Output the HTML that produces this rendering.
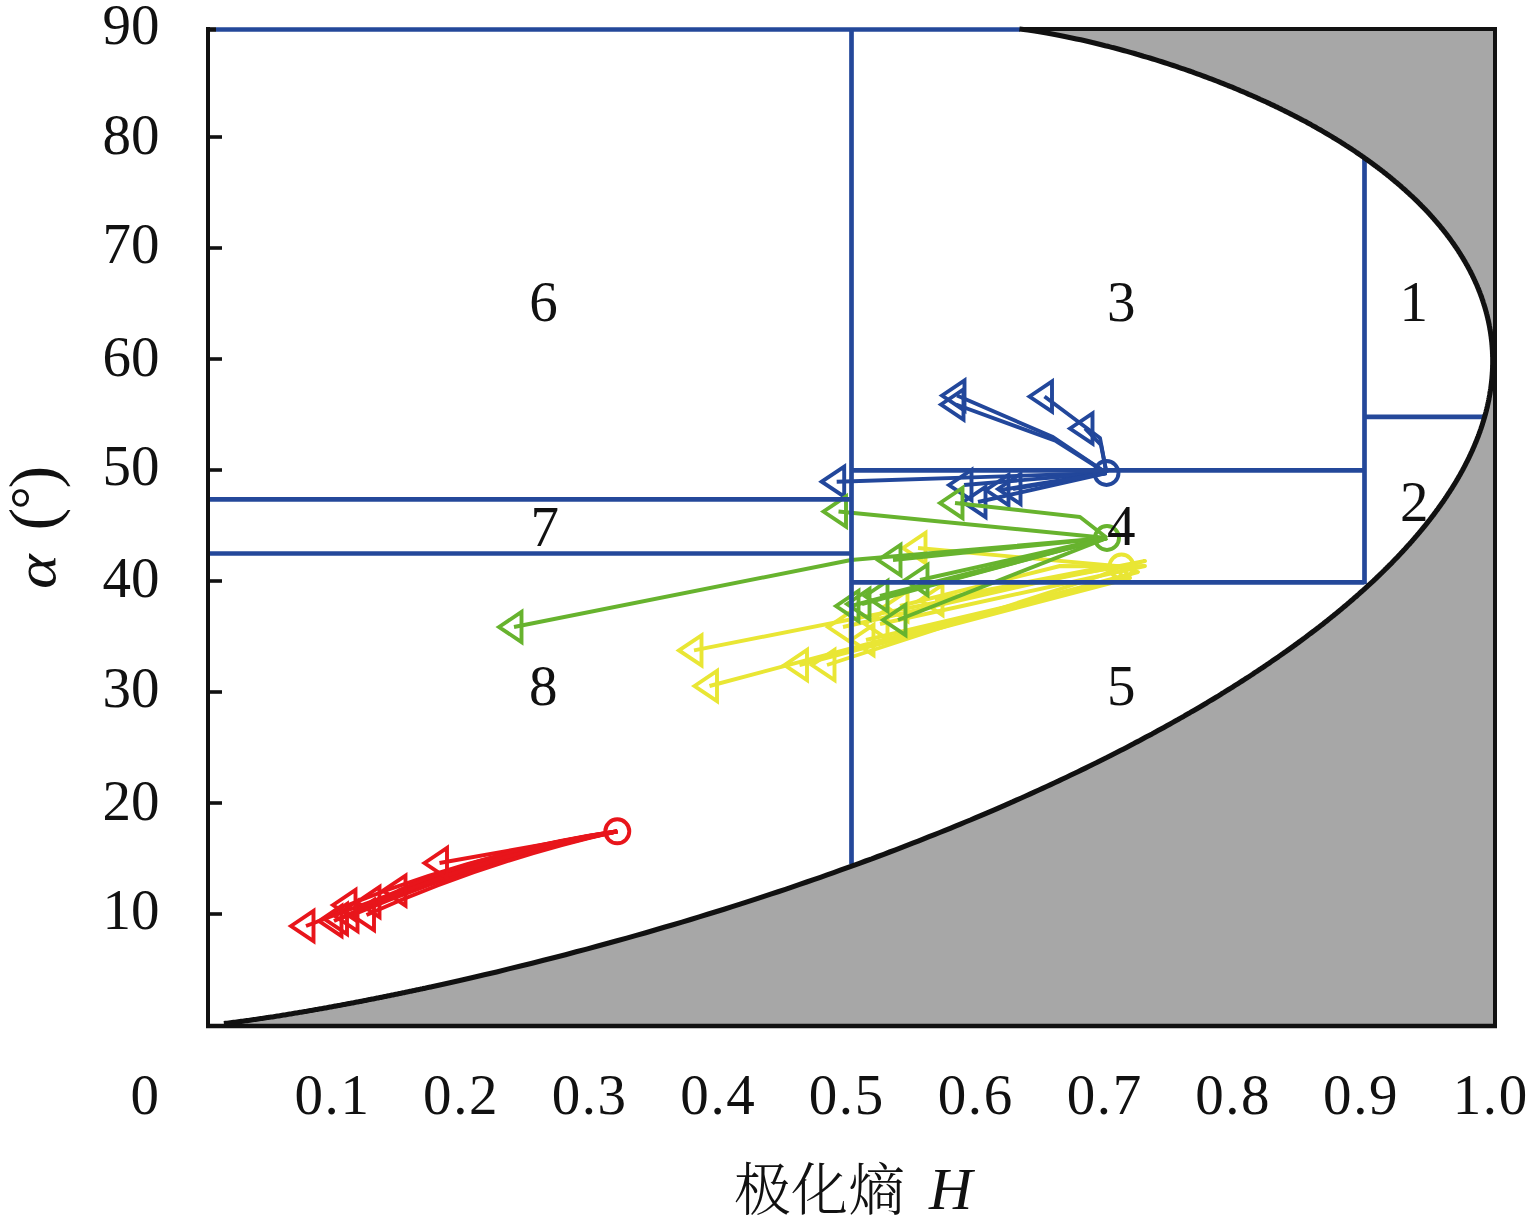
<!DOCTYPE html><html><head><meta charset="utf-8"><title>H-alpha</title><style>html,body{margin:0;padding:0;background:#fff;overflow:hidden}svg{display:block}</style></head><body>
<svg width="1535" height="1219" viewBox="0 0 1535 1219">
<rect width="1535" height="1219" fill="#fff"/>
<polygon points="223.9,1025.0 223.9,1023.6 225.6,1023.4 227.3,1023.2 228.9,1023.0 230.5,1022.8 232.1,1022.6 233.6,1022.4 235.2,1022.2 236.7,1022.0 238.2,1021.8 239.7,1021.6 241.2,1021.4 242.7,1021.2 244.1,1021.0 245.5,1020.8 247.0,1020.6 248.4,1020.4 249.8,1020.2 251.2,1020.0 252.6,1019.8 253.9,1019.6 255.3,1019.4 256.7,1019.2 258.0,1019.0 259.4,1018.8 260.7,1018.6 262.0,1018.4 263.3,1018.2 264.7,1018.0 266.0,1017.8 267.3,1017.6 268.5,1017.4 269.8,1017.3 271.1,1017.1 272.4,1016.9 273.6,1016.7 274.9,1016.5 276.1,1016.3 277.4,1016.1 278.6,1015.9 279.9,1015.7 281.1,1015.5 282.3,1015.3 283.5,1015.1 284.8,1014.9 286.0,1014.7 287.2,1014.5 288.4,1014.3 289.6,1014.1 290.8,1013.9 291.9,1013.7 293.1,1013.5 294.3,1013.3 295.5,1013.1 296.6,1012.9 297.8,1012.7 299.0,1012.5 300.1,1012.3 301.3,1012.2 302.4,1012.0 303.6,1011.8 304.7,1011.6 305.9,1011.4 307.0,1011.2 308.1,1011.0 309.2,1010.8 310.4,1010.6 311.5,1010.4 312.6,1010.2 313.7,1010.0 314.8,1009.8 315.9,1009.6 317.0,1009.4 318.1,1009.2 319.2,1009.0 320.3,1008.8 321.4,1008.7 322.5,1008.5 323.6,1008.3 324.6,1008.1 325.7,1007.9 326.8,1007.7 327.9,1007.5 328.9,1007.3 330.0,1007.1 331.0,1006.9 332.1,1006.7 333.2,1006.5 334.2,1006.3 335.3,1006.1 336.3,1006.0 337.3,1005.8 338.4,1005.6 339.4,1005.4 340.5,1005.2 341.5,1005.0 342.5,1004.8 343.6,1004.6 344.6,1004.4 345.6,1004.2 346.6,1004.0 347.6,1003.8 348.7,1003.6 349.7,1003.5 350.7,1003.3 351.7,1003.1 352.7,1002.9 353.7,1002.7 354.7,1002.5 355.7,1002.3 356.7,1002.1 357.7,1001.9 358.7,1001.7 359.7,1001.5 360.7,1001.4 361.6,1001.2 362.6,1001.0 363.6,1000.8 364.6,1000.6 365.6,1000.4 366.5,1000.2 367.5,1000.0 368.5,999.8 369.4,999.6 370.4,999.4 371.4,999.3 372.3,999.1 373.3,998.9 374.2,998.7 375.2,998.5 376.2,998.3 377.1,998.1 378.1,997.9 379.0,997.7 379.9,997.5 380.9,997.4 381.8,997.2 382.8,997.0 383.7,996.8 384.6,996.6 385.6,996.4 386.5,996.2 387.4,996.0 388.4,995.8 389.3,995.7 390.2,995.5 391.1,995.3 392.1,995.1 393.0,994.9 393.9,994.7 394.8,994.5 395.7,994.3 396.6,994.2 397.6,994.0 398.5,993.8 399.4,993.6 400.3,993.4 401.2,993.2 402.1,993.0 403.0,992.8 403.9,992.7 404.8,992.5 405.7,992.3 406.6,992.1 407.5,991.9 408.3,991.7 409.2,991.5 410.1,991.3 411.0,991.2 411.9,991.0 412.8,990.8 413.7,990.6 414.5,990.4 415.4,990.2 416.3,990.0 417.2,989.8 418.0,989.7 418.9,989.5 419.8,989.3 420.6,989.1 421.5,988.9 422.4,988.7 423.2,988.5 424.1,988.4 425.0,988.2 425.8,988.0 426.7,987.8 427.5,987.6 428.4,987.4 429.2,987.2 430.1,987.1 430.9,986.9 431.8,986.7 431.8,986.7 445.4,983.7 458.7,980.7 471.7,977.7 484.3,974.8 496.7,971.9 508.7,968.9 520.6,966.1 532.1,963.2 543.5,960.3 554.6,957.5 565.5,954.7 576.2,951.8 586.6,949.1 596.9,946.3 607.0,943.5 617.0,940.8 626.7,938.1 636.3,935.4 645.8,932.7 655.0,930.0 664.2,927.3 673.1,924.7 682.0,922.1 690.7,919.5 699.2,916.9 707.6,914.3 715.9,911.7 724.1,909.2 732.2,906.6 740.1,904.1 747.9,901.6 755.6,899.1 763.2,896.6 770.7,894.1 778.1,891.7 785.4,889.3 792.6,886.8 799.7,884.4 806.7,882.0 813.6,879.6 820.4,877.3 827.1,874.9 833.7,872.6 840.3,870.2 846.7,867.9 853.1,865.6 859.4,863.3 865.6,861.0 871.8,858.8 877.8,856.5 883.8,854.3 889.7,852.0 895.6,849.8 901.3,847.6 907.0,845.4 912.7,843.2 918.2,841.1 923.7,838.9 929.1,836.7 934.5,834.6 939.8,832.5 945.1,830.4 950.2,828.3 955.4,826.2 960.4,824.1 965.4,822.0 970.4,820.0 975.3,817.9 980.1,815.9 984.9,813.8 989.6,811.8 994.3,809.8 998.9,807.8 1003.5,805.8 1008.0,803.8 1012.5,801.9 1016.9,799.9 1021.3,798.0 1025.7,796.0 1029.9,794.1 1034.2,792.2 1038.4,790.3 1042.5,788.4 1046.6,786.5 1050.7,784.6 1054.7,782.7 1058.7,780.9 1062.6,779.0 1066.5,777.2 1070.4,775.3 1074.2,773.5 1078.0,771.7 1081.7,769.9 1085.4,768.1 1089.1,766.3 1092.7,764.5 1096.3,762.8 1099.8,761.0 1103.3,759.2 1106.8,757.5 1110.3,755.7 1113.7,754.0 1117.1,752.3 1120.4,750.6 1123.7,748.9 1127.0,747.2 1130.2,745.5 1133.5,743.8 1136.6,742.1 1139.8,740.5 1142.9,738.8 1146.0,737.1 1149.1,735.5 1152.1,733.9 1155.1,732.2 1158.1,730.6 1161.0,729.0 1163.9,727.4 1166.8,725.8 1169.7,724.2 1172.5,722.6 1175.3,721.0 1178.1,719.5 1180.9,717.9 1183.6,716.4 1186.3,714.8 1189.0,713.3 1191.6,711.7 1194.3,710.2 1196.9,708.7 1199.5,707.2 1202.0,705.7 1204.5,704.2 1207.1,702.7 1209.5,701.2 1212.0,699.7 1214.5,698.2 1216.9,696.8 1219.3,695.3 1221.6,693.8 1224.0,692.4 1226.3,690.9 1228.6,689.5 1230.9,688.1 1233.2,686.7 1235.5,685.2 1237.7,683.8 1239.9,682.4 1242.1,681.0 1244.3,679.6 1246.4,678.2 1248.6,676.9 1250.7,675.5 1252.8,674.1 1254.8,672.7 1256.9,671.4 1258.9,670.0 1261.0,668.7 1263.0,667.3 1265.0,666.0 1266.9,664.7 1268.9,663.4 1270.8,662.0 1272.7,660.7 1274.6,659.4 1276.5,658.1 1278.4,656.8 1280.2,655.5 1282.1,654.2 1283.9,652.9 1285.7,651.7 1287.5,650.4 1289.3,649.1 1291.0,647.9 1292.8,646.6 1294.5,645.4 1296.2,644.1 1297.9,642.9 1299.6,641.6 1301.3,640.4 1302.9,639.2 1304.6,638.0 1306.2,636.8 1307.8,635.5 1309.4,634.3 1311.0,633.1 1312.6,631.9 1314.2,630.7 1315.7,629.6 1317.2,628.4 1318.8,627.2 1320.3,626.0 1321.8,624.9 1323.3,623.7 1324.7,622.5 1326.2,621.4 1327.7,620.2 1329.1,619.1 1330.5,617.9 1331.9,616.8 1333.3,615.7 1334.7,614.5 1336.1,613.4 1337.5,612.3 1338.8,611.2 1340.2,610.1 1341.5,609.0 1342.8,607.9 1344.1,606.8 1345.4,605.7 1346.7,604.6 1348.0,603.5 1349.3,602.4 1350.5,601.3 1351.8,600.2 1353.0,599.2 1354.2,598.1 1355.5,597.1 1356.7,596.0 1357.9,594.9 1359.1,593.9 1360.2,592.8 1361.4,591.8 1362.6,590.8 1363.7,589.7 1364.9,588.7 1366.0,587.7 1367.1,586.6 1368.2,585.6 1369.3,584.6 1370.4,583.6 1371.5,582.6 1372.6,581.6 1373.7,580.6 1374.7,579.6 1375.8,578.6 1376.8,577.6 1377.8,576.6 1378.9,575.6 1379.9,574.6 1380.9,573.7 1381.9,572.7 1382.9,571.7 1383.9,570.8 1384.9,569.8 1385.8,568.8 1386.8,567.9 1387.8,566.9 1388.7,566.0 1389.6,565.0 1390.6,564.1 1391.5,563.2 1392.4,562.2 1393.3,561.3 1394.2,560.4 1395.1,559.4 1396.0,558.5 1396.9,557.6 1397.8,556.7 1398.6,555.8 1399.5,554.9 1400.4,553.9 1401.2,553.0 1402.0,552.1 1402.9,551.2 1403.7,550.3 1404.5,549.5 1405.3,548.6 1406.1,547.7 1406.9,546.8 1407.7,545.9 1408.5,545.0 1409.3,544.2 1410.1,543.3 1410.9,542.4 1411.6,541.6 1412.4,540.7 1413.1,539.8 1413.9,539.0 1414.6,538.1 1415.3,537.3 1416.1,536.4 1416.8,535.6 1417.5,534.8 1418.2,533.9 1418.9,533.1 1419.6,532.2 1420.3,531.4 1421.0,530.6 1421.7,529.8 1422.4,528.9 1423.0,528.1 1423.7,527.3 1424.4,526.5 1425.0,525.7 1425.7,524.9 1426.3,524.1 1427.0,523.3 1427.6,522.5 1428.2,521.7 1428.8,520.9 1429.5,520.1 1430.1,519.3 1430.7,518.5 1431.3,517.7 1431.9,516.9 1432.5,516.1 1433.1,515.4 1433.7,514.6 1434.3,513.8 1434.8,513.0 1435.4,512.3 1436.0,511.5 1436.5,510.7 1437.1,510.0 1437.7,509.2 1438.2,508.5 1438.7,507.7 1439.3,507.0 1439.8,506.2 1440.4,505.5 1440.9,504.7 1441.4,504.0 1441.9,503.2 1442.4,502.5 1443.0,501.8 1443.5,501.0 1444.0,500.3 1444.5,499.6 1445.0,498.8 1445.4,498.1 1445.9,497.4 1446.4,496.7 1446.9,496.0 1447.4,495.2 1447.8,494.5 1448.3,493.8 1448.8,493.1 1449.2,492.4 1449.7,491.7 1450.1,491.0 1450.6,490.3 1451.0,489.6 1451.5,488.9 1451.9,488.2 1452.4,487.5 1452.8,486.8 1453.2,486.1 1453.6,485.5 1454.1,484.8 1454.5,484.1 1454.9,483.4 1455.3,482.7 1455.7,482.1 1456.1,481.4 1456.5,480.7 1456.9,480.0 1457.3,479.4 1457.7,478.7 1458.1,478.0 1458.5,477.4 1458.8,476.7 1459.2,476.1 1459.6,475.4 1460.0,474.8 1460.3,474.1 1460.7,473.5 1461.0,472.8 1461.4,472.2 1461.8,471.5 1462.1,470.9 1462.5,470.2 1462.8,469.6 1463.2,469.0 1463.5,468.3 1463.8,467.7 1464.2,467.1 1464.5,466.4 1464.8,465.8 1465.2,465.2 1465.5,464.5 1465.8,463.9 1466.1,463.3 1466.4,462.7 1466.7,462.1 1467.1,461.5 1467.4,460.8 1467.7,460.2 1468.0,459.6 1468.3,459.0 1468.6,458.4 1468.9,457.8 1469.2,457.2 1469.4,456.6 1469.7,456.0 1470.0,455.4 1470.3,454.8 1470.6,454.2 1470.8,453.6 1471.1,453.0 1471.4,452.4 1471.7,451.8 1471.9,451.3 1472.2,450.7 1472.5,450.1 1472.7,449.5 1473.0,448.9 1473.2,448.3 1473.5,447.8 1473.7,447.2 1474.0,446.6 1474.2,446.0 1474.5,445.5 1474.7,444.9 1474.9,444.3 1475.2,443.8 1475.4,443.2 1475.6,442.6 1475.9,442.1 1476.1,441.5 1476.3,441.0 1476.6,440.4 1476.8,439.9 1477.0,439.3 1477.2,438.7 1477.4,438.2 1477.6,437.6 1477.9,437.1 1478.1,436.6 1478.3,436.0 1478.5,435.5 1478.7,434.9 1478.9,434.4 1479.1,433.8 1479.3,433.3 1479.5,432.8 1479.7,432.2 1479.9,431.7 1480.1,431.2 1480.2,430.6 1480.4,430.1 1480.6,429.6 1480.8,429.1 1481.0,428.5 1481.2,428.0 1481.3,427.5 1481.5,427.0 1481.7,426.4 1481.9,425.9 1482.0,425.4 1482.2,424.9 1482.4,424.4 1482.5,423.9 1482.7,423.4 1482.8,422.8 1483.0,422.3 1483.2,421.8 1483.3,421.3 1483.5,420.8 1483.6,420.3 1483.8,419.8 1483.9,419.3 1484.1,418.8 1484.2,418.3 1484.4,417.8 1484.5,417.3 1484.7,416.8 1484.8,416.3 1484.9,415.8 1485.1,415.3 1485.2,414.9 1485.3,414.4 1485.5,413.9 1485.6,413.4 1485.7,412.9 1485.9,412.4 1486.0,411.9 1486.1,411.5 1486.2,411.0 1486.4,410.5 1486.5,410.0 1486.6,409.5 1486.7,409.1 1486.8,408.6 1486.9,408.1 1487.1,407.7 1487.2,407.2 1487.3,406.7 1487.4,406.2 1487.5,405.8 1487.6,405.3 1487.7,404.8 1487.8,404.4 1487.9,403.9 1488.0,403.5 1488.1,403.0 1488.2,402.5 1488.3,402.1 1488.4,401.6 1488.5,401.2 1488.6,400.7 1488.7,400.3 1488.8,399.8 1488.9,399.4 1489.0,398.9 1489.0,398.5 1489.1,398.0 1489.2,397.6 1489.3,397.1 1489.4,396.7 1489.5,396.2 1489.5,395.8 1489.6,395.3 1489.7,394.9 1489.8,394.5 1489.9,394.0 1489.9,393.6 1490.0,393.2 1490.1,392.7 1490.1,392.3 1490.2,391.9 1490.3,391.4 1490.3,391.0 1490.4,390.6 1490.5,390.1 1490.5,389.7 1490.6,389.3 1490.7,388.8 1490.7,388.4 1490.8,388.0 1490.9,387.6 1490.9,387.2 1491.0,386.7 1491.0,386.3 1491.1,385.9 1491.1,385.5 1491.2,385.1 1491.2,384.6 1491.3,384.2 1491.3,383.8 1491.4,383.4 1491.4,383.0 1491.5,382.6 1491.5,382.2 1491.6,381.8 1491.6,381.4 1491.7,380.9 1491.7,380.5 1491.7,380.1 1491.8,379.7 1491.8,379.3 1491.9,378.9 1491.9,378.5 1491.9,378.1 1492.0,377.7 1492.0,377.3 1492.0,376.9 1492.1,376.5 1492.1,376.1 1492.1,375.7 1492.2,375.3 1492.2,374.9 1492.2,374.5 1492.2,374.2 1492.3,373.8 1492.3,373.4 1492.3,373.0 1492.3,372.6 1492.4,372.2 1492.4,371.8 1492.4,371.4 1492.4,371.1 1492.5,370.7 1492.5,370.3 1492.5,369.9 1492.5,369.5 1492.5,369.1 1492.5,368.8 1492.6,368.4 1492.6,368.0 1492.6,367.6 1492.6,367.3 1492.6,366.9 1492.6,366.5 1492.6,366.1 1492.6,365.8 1492.6,365.4 1492.7,365.0 1492.7,364.6 1492.7,364.3 1492.7,363.9 1492.7,363.5 1492.7,363.2 1492.7,362.8 1492.7,362.4 1492.7,362.1 1492.7,361.7 1492.7,361.3 1492.7,361.0 1495.0,360.0 1495.0,1025.0" fill="#a7a7a7"/>
<polygon points="1019.4,29.0 1019.4,29.0 1027.9,30.0 1034.7,31.0 1040.8,32.0 1046.6,32.9 1052.1,33.9 1057.3,34.9 1062.3,35.9 1067.1,36.9 1071.8,37.9 1076.4,38.9 1080.8,39.8 1085.1,40.8 1089.3,41.8 1093.4,42.7 1097.4,43.7 1101.4,44.7 1105.2,45.7 1109.0,46.6 1112.7,47.6 1116.4,48.5 1120.0,49.5 1123.5,50.5 1126.9,51.4 1130.4,52.4 1133.7,53.3 1137.0,54.3 1140.3,55.2 1143.5,56.2 1146.7,57.1 1149.8,58.0 1152.9,59.0 1155.9,59.9 1158.9,60.9 1161.8,61.8 1164.8,62.7 1167.6,63.6 1170.5,64.6 1173.3,65.5 1176.1,66.4 1178.8,67.4 1181.5,68.3 1184.2,69.2 1186.9,70.1 1189.5,71.0 1192.1,71.9 1194.6,72.9 1197.2,73.8 1199.7,74.7 1202.2,75.6 1204.6,76.5 1207.0,77.4 1209.4,78.3 1211.8,79.2 1214.2,80.1 1216.5,81.0 1218.8,81.9 1221.1,82.8 1223.3,83.7 1225.6,84.6 1227.8,85.5 1230.0,86.3 1232.2,87.2 1234.3,88.1 1236.4,89.0 1238.6,89.9 1240.7,90.8 1242.7,91.6 1244.8,92.5 1246.8,93.4 1248.8,94.3 1250.8,95.1 1252.8,96.0 1254.8,96.9 1256.7,97.7 1258.6,98.6 1260.5,99.5 1262.4,100.3 1264.3,101.2 1266.2,102.0 1268.0,102.9 1269.8,103.7 1271.6,104.6 1273.4,105.4 1275.2,106.3 1277.0,107.1 1278.7,108.0 1280.5,108.8 1282.2,109.7 1283.9,110.5 1285.6,111.4 1287.3,112.2 1288.9,113.0 1290.6,113.9 1292.2,114.7 1293.8,115.5 1295.5,116.4 1297.1,117.2 1298.6,118.0 1300.2,118.9 1301.8,119.7 1303.3,120.5 1304.9,121.3 1306.4,122.1 1307.9,123.0 1309.4,123.8 1310.9,124.6 1312.3,125.4 1313.8,126.2 1315.3,127.0 1316.7,127.9 1318.1,128.7 1319.6,129.5 1321.0,130.3 1322.4,131.1 1323.7,131.9 1325.1,132.7 1326.5,133.5 1327.8,134.3 1329.2,135.1 1330.5,135.9 1331.8,136.7 1333.1,137.5 1334.4,138.3 1335.7,139.0 1337.0,139.8 1338.3,140.6 1339.6,141.4 1340.8,142.2 1342.1,143.0 1343.3,143.8 1344.5,144.5 1345.7,145.3 1347.0,146.1 1348.2,146.9 1349.3,147.6 1350.5,148.4 1351.7,149.2 1352.9,150.0 1354.0,150.7 1355.2,151.5 1356.3,152.3 1357.4,153.0 1358.6,153.8 1359.7,154.6 1360.8,155.3 1361.9,156.1 1363.0,156.8 1364.0,157.6 1365.1,158.4 1366.2,159.1 1367.2,159.9 1368.3,160.6 1369.3,161.4 1370.4,162.1 1371.4,162.9 1372.4,163.6 1373.4,164.4 1374.4,165.1 1375.4,165.8 1376.4,166.6 1377.4,167.3 1378.4,168.1 1379.4,168.8 1380.3,169.5 1381.3,170.3 1382.2,171.0 1383.2,171.7 1384.1,172.5 1385.0,173.2 1386.0,173.9 1386.9,174.7 1387.8,175.4 1388.7,176.1 1389.6,176.8 1390.5,177.6 1391.4,178.3 1392.2,179.0 1393.1,179.7 1394.0,180.4 1394.8,181.2 1395.7,181.9 1396.5,182.6 1397.4,183.3 1398.2,184.0 1399.0,184.7 1399.9,185.4 1400.7,186.1 1401.5,186.9 1402.3,187.6 1403.1,188.3 1403.9,189.0 1404.7,189.7 1405.5,190.4 1406.2,191.1 1407.0,191.8 1407.8,192.5 1408.5,193.2 1409.3,193.9 1410.0,194.6 1410.8,195.3 1411.5,195.9 1412.3,196.6 1413.0,197.3 1413.7,198.0 1414.4,198.7 1415.2,199.4 1415.9,200.1 1416.6,200.8 1417.3,201.4 1418.0,202.1 1418.6,202.8 1419.3,203.5 1420.0,204.2 1420.7,204.8 1421.3,205.5 1422.0,206.2 1422.7,206.9 1423.3,207.5 1424.0,208.2 1424.6,208.9 1425.3,209.5 1425.9,210.2 1426.5,210.9 1427.2,211.5 1427.8,212.2 1428.4,212.9 1429.0,213.5 1429.6,214.2 1430.2,214.9 1430.8,215.5 1431.4,216.2 1432.0,216.8 1432.6,217.5 1433.2,218.2 1433.8,218.8 1434.3,219.5 1434.9,220.1 1435.5,220.8 1436.0,221.4 1436.6,222.1 1437.2,222.7 1437.7,223.4 1438.2,224.0 1438.8,224.6 1439.3,225.3 1439.9,225.9 1440.4,226.6 1440.9,227.2 1441.4,227.9 1442.0,228.5 1442.5,229.1 1443.0,229.8 1443.5,230.4 1444.0,231.0 1444.5,231.7 1445.0,232.3 1445.5,232.9 1446.0,233.6 1446.5,234.2 1446.9,234.8 1447.4,235.5 1447.9,236.1 1448.4,236.7 1448.8,237.3 1449.3,238.0 1449.8,238.6 1450.2,239.2 1450.7,239.8 1451.1,240.4 1451.6,241.1 1452.0,241.7 1452.4,242.3 1452.9,242.9 1453.3,243.5 1453.7,244.1 1454.2,244.8 1454.6,245.4 1455.0,246.0 1455.4,246.6 1455.8,247.2 1456.3,247.8 1456.7,248.4 1457.1,249.0 1457.5,249.6 1457.9,250.2 1458.3,250.8 1458.7,251.4 1459.0,252.0 1459.4,252.6 1459.8,253.2 1460.2,253.8 1460.6,254.4 1460.9,255.0 1461.3,255.6 1461.7,256.2 1462.0,256.8 1462.4,257.4 1462.8,258.0 1463.1,258.6 1463.5,259.2 1463.8,259.8 1464.2,260.4 1464.5,260.9 1464.9,261.5 1465.2,262.1 1465.5,262.7 1465.9,263.3 1466.2,263.9 1466.5,264.5 1466.9,265.0 1467.2,265.6 1467.5,266.2 1467.8,266.8 1468.1,267.3 1468.4,267.9 1468.8,268.5 1469.1,269.1 1469.4,269.7 1469.7,270.2 1470.0,270.8 1470.3,271.4 1470.6,271.9 1470.8,272.5 1471.1,273.1 1471.4,273.6 1471.7,274.2 1472.0,274.8 1472.3,275.3 1472.5,275.9 1472.8,276.5 1473.1,277.0 1473.4,277.6 1473.6,278.2 1473.9,278.7 1474.2,279.3 1474.4,279.8 1474.7,280.4 1474.9,281.0 1475.2,281.5 1475.4,282.1 1475.7,282.6 1475.9,283.2 1476.2,283.7 1476.4,284.3 1476.7,284.8 1476.9,285.4 1477.1,285.9 1477.4,286.5 1477.6,287.0 1477.8,287.6 1478.0,288.1 1478.3,288.7 1478.5,289.2 1478.7,289.8 1478.9,290.3 1479.1,290.9 1479.4,291.4 1479.6,291.9 1479.8,292.5 1480.0,293.0 1480.2,293.6 1480.4,294.1 1480.6,294.6 1480.8,295.2 1481.0,295.7 1481.2,296.2 1481.4,296.8 1481.6,297.3 1481.8,297.8 1481.9,298.4 1482.1,298.9 1482.3,299.4 1482.5,300.0 1482.7,300.5 1482.9,301.0 1483.0,301.5 1483.2,302.1 1483.4,302.6 1483.5,303.1 1483.7,303.6 1483.9,304.2 1484.0,304.7 1484.2,305.2 1484.4,305.7 1484.5,306.2 1484.7,306.8 1484.8,307.3 1485.0,307.8 1485.1,308.3 1485.3,308.8 1485.4,309.3 1485.6,309.9 1485.7,310.4 1485.9,310.9 1486.0,311.4 1486.2,311.9 1486.3,312.4 1486.4,312.9 1486.6,313.4 1486.7,314.0 1486.8,314.5 1487.0,315.0 1487.1,315.5 1487.2,316.0 1487.3,316.5 1487.5,317.0 1487.6,317.5 1487.7,318.0 1487.8,318.5 1487.9,319.0 1488.0,319.5 1488.2,320.0 1488.3,320.5 1488.4,321.0 1488.5,321.5 1488.6,322.0 1488.7,322.5 1488.8,323.0 1488.9,323.5 1489.0,324.0 1489.1,324.5 1489.2,325.0 1489.3,325.5 1489.4,326.0 1489.5,326.4 1489.6,326.9 1489.7,327.4 1489.8,327.9 1489.8,328.4 1489.9,328.9 1490.0,329.4 1490.1,329.9 1490.2,330.4 1490.3,330.8 1490.3,331.3 1490.4,331.8 1490.5,332.3 1490.6,332.8 1490.6,333.3 1490.7,333.7 1490.8,334.2 1490.8,334.7 1490.9,335.2 1491.0,335.7 1491.0,336.1 1491.1,336.6 1491.2,337.1 1491.2,337.6 1491.3,338.0 1491.3,338.5 1491.4,339.0 1491.5,339.5 1491.5,339.9 1491.6,340.4 1491.6,340.9 1491.7,341.3 1491.7,341.8 1491.8,342.3 1491.8,342.8 1491.9,343.2 1491.9,343.7 1491.9,344.2 1492.0,344.6 1492.0,345.1 1492.1,345.5 1492.1,346.0 1492.1,346.5 1492.2,346.9 1492.2,347.4 1492.2,347.9 1492.3,348.3 1492.3,348.8 1492.3,349.2 1492.4,349.7 1492.4,350.2 1492.4,350.6 1492.4,351.1 1492.5,351.5 1492.5,352.0 1492.5,352.4 1492.5,352.9 1492.5,353.4 1492.6,353.8 1492.6,354.3 1492.6,354.7 1492.6,355.2 1492.6,355.6 1492.6,356.1 1492.6,356.5 1492.7,357.0 1492.7,357.4 1492.7,357.9 1492.7,358.3 1492.7,358.8 1492.7,359.2 1492.7,359.6 1492.7,360.1 1492.7,360.5 1492.7,361.0 1495.0,360.0 1495.0,29.0" fill="#a7a7a7"/>
<path d="M617.3,831.3 L439.5,863.0" fill="none" stroke="#e8151b" stroke-width="3.9" stroke-linejoin="round"/>
<path d="M617.3,831.3Q470.0,862.0 306.0,926.0" fill="none" stroke="#e8151b" stroke-width="3.9"/>
<path d="M617.3,831.3Q480.0,858.0 339.5,919.0" fill="none" stroke="#e8151b" stroke-width="3.9"/>
<path d="M617.3,831.3Q482.0,860.0 350.0,916.0" fill="none" stroke="#e8151b" stroke-width="3.9"/>
<path d="M617.3,831.3Q486.0,861.0 366.5,915.0" fill="none" stroke="#e8151b" stroke-width="3.9"/>
<path d="M617.3,831.3Q478.0,853.0 348.0,905.0" fill="none" stroke="#e8151b" stroke-width="3.9"/>
<path d="M617.3,831.3Q484.0,852.0 372.0,902.0" fill="none" stroke="#e8151b" stroke-width="3.9"/>
<path d="M617.3,831.3Q490.0,850.0 398.0,890.7" fill="none" stroke="#e8151b" stroke-width="3.9"/>
<path d="M617.3,831.3Q476.0,856.0 334.0,921.0" fill="none" stroke="#e8151b" stroke-width="3.9"/>
<path d="M291.0,926.0L313.5,911.0L313.5,941.0Z" fill="none" stroke="#e8151b" stroke-width="3.9" stroke-miterlimit="10"/>
<path d="M424.5,863.0L447.0,848.0L447.0,878.0Z" fill="none" stroke="#e8151b" stroke-width="3.9" stroke-miterlimit="10"/>
<path d="M324.5,919.0L347.0,904.0L347.0,934.0Z" fill="none" stroke="#e8151b" stroke-width="3.9" stroke-miterlimit="10"/>
<path d="M335.0,916.0L357.5,901.0L357.5,931.0Z" fill="none" stroke="#e8151b" stroke-width="3.9" stroke-miterlimit="10"/>
<path d="M351.5,915.0L374.0,900.0L374.0,930.0Z" fill="none" stroke="#e8151b" stroke-width="3.9" stroke-miterlimit="10"/>
<path d="M333.0,905.0L355.5,890.0L355.5,920.0Z" fill="none" stroke="#e8151b" stroke-width="3.9" stroke-miterlimit="10"/>
<path d="M357.0,902.0L379.5,887.0L379.5,917.0Z" fill="none" stroke="#e8151b" stroke-width="3.9" stroke-miterlimit="10"/>
<path d="M383.0,890.7L405.5,875.7L405.5,905.7Z" fill="none" stroke="#e8151b" stroke-width="3.9" stroke-miterlimit="10"/>
<path d="M319.0,921.0L341.5,906.0L341.5,936.0Z" fill="none" stroke="#e8151b" stroke-width="3.9" stroke-miterlimit="10"/>
<circle cx="617.3" cy="831.3" r="12" fill="none" stroke="#e8151b" stroke-width="3.9"/>
<path d="M1121.5,566.5 L1145.0,561.0 L694.0,650.4" fill="none" stroke="#e9e634" stroke-width="3.9" stroke-linejoin="round"/>
<path d="M1121.5,566.5 L1138.0,572.0 L709.5,686.0" fill="none" stroke="#e9e634" stroke-width="3.9" stroke-linejoin="round"/>
<path d="M1121.5,566.5 L1130.0,578.0 L799.5,665.0" fill="none" stroke="#e9e634" stroke-width="3.9" stroke-linejoin="round"/>
<path d="M1121.5,566.5 L1100.0,576.0 L827.0,665.0" fill="none" stroke="#e9e634" stroke-width="3.9" stroke-linejoin="round"/>
<path d="M1121.5,566.5 L1075.0,574.0 L843.0,627.0" fill="none" stroke="#e9e634" stroke-width="3.9" stroke-linejoin="round"/>
<path d="M1121.5,566.5 L1120.0,580.0 L866.0,640.0" fill="none" stroke="#e9e634" stroke-width="3.9" stroke-linejoin="round"/>
<path d="M1121.5,566.5 L918.0,548.0" fill="none" stroke="#e9e634" stroke-width="3.9" stroke-linejoin="round"/>
<path d="M1121.5,566.5 L1060.0,566.0 L900.0,606.0" fill="none" stroke="#e9e634" stroke-width="3.9" stroke-linejoin="round"/>
<path d="M1121.5,566.5 L1145.0,566.0 L880.0,624.0" fill="none" stroke="#e9e634" stroke-width="3.9" stroke-linejoin="round"/>
<path d="M1121.5,566.5 L1090.0,570.0 L935.0,600.0" fill="none" stroke="#e9e634" stroke-width="3.9" stroke-linejoin="round"/>
<path d="M679.0,650.4L701.5,635.4L701.5,665.4Z" fill="none" stroke="#e9e634" stroke-width="3.9" stroke-miterlimit="10"/>
<path d="M694.5,686.0L717.0,671.0L717.0,701.0Z" fill="none" stroke="#e9e634" stroke-width="3.9" stroke-miterlimit="10"/>
<path d="M784.5,665.0L807.0,650.0L807.0,680.0Z" fill="none" stroke="#e9e634" stroke-width="3.9" stroke-miterlimit="10"/>
<path d="M812.0,665.0L834.5,650.0L834.5,680.0Z" fill="none" stroke="#e9e634" stroke-width="3.9" stroke-miterlimit="10"/>
<path d="M828.0,627.0L850.5,612.0L850.5,642.0Z" fill="none" stroke="#e9e634" stroke-width="3.9" stroke-miterlimit="10"/>
<path d="M851.0,640.0L873.5,625.0L873.5,655.0Z" fill="none" stroke="#e9e634" stroke-width="3.9" stroke-miterlimit="10"/>
<path d="M903.0,548.0L925.5,533.0L925.5,563.0Z" fill="none" stroke="#e9e634" stroke-width="3.9" stroke-miterlimit="10"/>
<path d="M885.0,606.0L907.5,591.0L907.5,621.0Z" fill="none" stroke="#e9e634" stroke-width="3.9" stroke-miterlimit="10"/>
<path d="M865.0,624.0L887.5,609.0L887.5,639.0Z" fill="none" stroke="#e9e634" stroke-width="3.9" stroke-miterlimit="10"/>
<path d="M920.0,600.0L942.5,585.0L942.5,615.0Z" fill="none" stroke="#e9e634" stroke-width="3.9" stroke-miterlimit="10"/>
<circle cx="1121.5" cy="566.5" r="12" fill="none" stroke="#e9e634" stroke-width="3.9"/>
<path d="M1106.5,473.0 L1053.0,437.0 L957.0,395.5" fill="none" stroke="#22479b" stroke-width="3.9" stroke-linejoin="round"/>
<path d="M1106.5,473.0 L1056.0,441.0 L956.0,404.5" fill="none" stroke="#22479b" stroke-width="3.9" stroke-linejoin="round"/>
<path d="M1106.5,473.0 L1100.0,438.0 L1044.5,396.5" fill="none" stroke="#22479b" stroke-width="3.9" stroke-linejoin="round"/>
<path d="M1106.5,473.0 L1101.0,445.0 L1085.0,428.5" fill="none" stroke="#22479b" stroke-width="3.9" stroke-linejoin="round"/>
<path d="M1106.5,473.0 L836.7,481.7" fill="none" stroke="#22479b" stroke-width="3.9" stroke-linejoin="round"/>
<path d="M1106.5,473.0 L964.0,485.0" fill="none" stroke="#22479b" stroke-width="3.9" stroke-linejoin="round"/>
<path d="M1106.5,473.0 L978.0,502.0" fill="none" stroke="#22479b" stroke-width="3.9" stroke-linejoin="round"/>
<path d="M1106.5,473.0 L1001.0,490.0" fill="none" stroke="#22479b" stroke-width="3.9" stroke-linejoin="round"/>
<path d="M1106.5,473.0 L1013.0,489.0" fill="none" stroke="#22479b" stroke-width="3.9" stroke-linejoin="round"/>
<path d="M942.0,395.5L964.5,380.5L964.5,410.5Z" fill="none" stroke="#22479b" stroke-width="3.9" stroke-miterlimit="10"/>
<path d="M941.0,404.5L963.5,389.5L963.5,419.5Z" fill="none" stroke="#22479b" stroke-width="3.9" stroke-miterlimit="10"/>
<path d="M1029.5,396.5L1052.0,381.5L1052.0,411.5Z" fill="none" stroke="#22479b" stroke-width="3.9" stroke-miterlimit="10"/>
<path d="M1070.0,428.5L1092.5,413.5L1092.5,443.5Z" fill="none" stroke="#22479b" stroke-width="3.9" stroke-miterlimit="10"/>
<path d="M821.7,481.7L844.2,466.7L844.2,496.7Z" fill="none" stroke="#22479b" stroke-width="3.9" stroke-miterlimit="10"/>
<path d="M949.0,485.0L971.5,470.0L971.5,500.0Z" fill="none" stroke="#22479b" stroke-width="3.9" stroke-miterlimit="10"/>
<path d="M963.0,502.0L985.5,487.0L985.5,517.0Z" fill="none" stroke="#22479b" stroke-width="3.9" stroke-miterlimit="10"/>
<path d="M986.0,490.0L1008.5,475.0L1008.5,505.0Z" fill="none" stroke="#22479b" stroke-width="3.9" stroke-miterlimit="10"/>
<path d="M998.0,489.0L1020.5,474.0L1020.5,504.0Z" fill="none" stroke="#22479b" stroke-width="3.9" stroke-miterlimit="10"/>
<circle cx="1106.5" cy="473" r="12" fill="none" stroke="#22479b" stroke-width="3.9"/>
<path d="M1107.0,538.0 L851.0,560.0 L514.0,627.0" fill="none" stroke="#67b32e" stroke-width="3.9" stroke-linejoin="round"/>
<path d="M1107.0,538.0 L838.5,511.5" fill="none" stroke="#67b32e" stroke-width="3.9" stroke-linejoin="round"/>
<path d="M1107.0,538.0 L1080.0,517.0 L955.0,503.0" fill="none" stroke="#67b32e" stroke-width="3.9" stroke-linejoin="round"/>
<path d="M1107.0,538.0 L893.0,560.0" fill="none" stroke="#67b32e" stroke-width="3.9" stroke-linejoin="round"/>
<path d="M1107.0,538.0 L920.0,580.0" fill="none" stroke="#67b32e" stroke-width="3.9" stroke-linejoin="round"/>
<path d="M1107.0,538.0 L851.0,606.0" fill="none" stroke="#67b32e" stroke-width="3.9" stroke-linejoin="round"/>
<path d="M1107.0,538.0 L862.0,604.0" fill="none" stroke="#67b32e" stroke-width="3.9" stroke-linejoin="round"/>
<path d="M1107.0,538.0 L898.0,620.0" fill="none" stroke="#67b32e" stroke-width="3.9" stroke-linejoin="round"/>
<path d="M1107.0,538.0 L880.0,596.0" fill="none" stroke="#67b32e" stroke-width="3.9" stroke-linejoin="round"/>
<path d="M499.0,627.0L521.5,612.0L521.5,642.0Z" fill="none" stroke="#67b32e" stroke-width="3.9" stroke-miterlimit="10"/>
<path d="M823.5,511.5L846.0,496.5L846.0,526.5Z" fill="none" stroke="#67b32e" stroke-width="3.9" stroke-miterlimit="10"/>
<path d="M940.0,503.0L962.5,488.0L962.5,518.0Z" fill="none" stroke="#67b32e" stroke-width="3.9" stroke-miterlimit="10"/>
<path d="M878.0,560.0L900.5,545.0L900.5,575.0Z" fill="none" stroke="#67b32e" stroke-width="3.9" stroke-miterlimit="10"/>
<path d="M905.0,580.0L927.5,565.0L927.5,595.0Z" fill="none" stroke="#67b32e" stroke-width="3.9" stroke-miterlimit="10"/>
<path d="M836.0,606.0L858.5,591.0L858.5,621.0Z" fill="none" stroke="#67b32e" stroke-width="3.9" stroke-miterlimit="10"/>
<path d="M847.0,604.0L869.5,589.0L869.5,619.0Z" fill="none" stroke="#67b32e" stroke-width="3.9" stroke-miterlimit="10"/>
<path d="M883.0,620.0L905.5,605.0L905.5,635.0Z" fill="none" stroke="#67b32e" stroke-width="3.9" stroke-miterlimit="10"/>
<path d="M865.0,596.0L887.5,581.0L887.5,611.0Z" fill="none" stroke="#67b32e" stroke-width="3.9" stroke-miterlimit="10"/>
<circle cx="1107" cy="538" r="12" fill="none" stroke="#67b32e" stroke-width="3.9"/>
<g stroke="#111" fill="none">
<line x1="208" y1="27" x2="208" y2="1028" stroke-width="4"/>
<line x1="206" y1="1026" x2="1497" y2="1026" stroke-width="4.6"/>
<line x1="1495" y1="27" x2="1495" y2="1028" stroke-width="4"/>
<line x1="1023" y1="29" x2="1497" y2="29" stroke-width="4"/>
</g>
<g stroke="#24489a" stroke-width="4.7" fill="none">
<line x1="216" y1="29.5" x2="1020" y2="29.5"/>
<line x1="851.5" y1="29" x2="851.5" y2="864"/>
<line x1="1364.5" y1="158" x2="1364.5" y2="584"/>
<line x1="210" y1="499.3" x2="851.5" y2="499.3"/>
<line x1="210" y1="553.5" x2="851.5" y2="553.5"/>
<line x1="851.5" y1="470.3" x2="1364.5" y2="470.3"/>
<line x1="851.5" y1="582.3" x2="1364.5" y2="582.3"/>
<line x1="1364.5" y1="416.9" x2="1486" y2="416.9"/>
</g>
<polyline points="223.9,1023.6 225.6,1023.4 227.3,1023.2 228.9,1023.0 230.5,1022.8 232.1,1022.6 233.6,1022.4 235.2,1022.2 236.7,1022.0 238.2,1021.8 239.7,1021.6 241.2,1021.4 242.7,1021.2 244.1,1021.0 245.5,1020.8 247.0,1020.6 248.4,1020.4 249.8,1020.2 251.2,1020.0 252.6,1019.8 253.9,1019.6 255.3,1019.4 256.7,1019.2 258.0,1019.0 259.4,1018.8 260.7,1018.6 262.0,1018.4 263.3,1018.2 264.7,1018.0 266.0,1017.8 267.3,1017.6 268.5,1017.4 269.8,1017.3 271.1,1017.1 272.4,1016.9 273.6,1016.7 274.9,1016.5 276.1,1016.3 277.4,1016.1 278.6,1015.9 279.9,1015.7 281.1,1015.5 282.3,1015.3 283.5,1015.1 284.8,1014.9 286.0,1014.7 287.2,1014.5 288.4,1014.3 289.6,1014.1 290.8,1013.9 291.9,1013.7 293.1,1013.5 294.3,1013.3 295.5,1013.1 296.6,1012.9 297.8,1012.7 299.0,1012.5 300.1,1012.3 301.3,1012.2 302.4,1012.0 303.6,1011.8 304.7,1011.6 305.9,1011.4 307.0,1011.2 308.1,1011.0 309.2,1010.8 310.4,1010.6 311.5,1010.4 312.6,1010.2 313.7,1010.0 314.8,1009.8 315.9,1009.6 317.0,1009.4 318.1,1009.2 319.2,1009.0 320.3,1008.8 321.4,1008.7 322.5,1008.5 323.6,1008.3 324.6,1008.1 325.7,1007.9 326.8,1007.7 327.9,1007.5 328.9,1007.3 330.0,1007.1 331.0,1006.9 332.1,1006.7 333.2,1006.5 334.2,1006.3 335.3,1006.1 336.3,1006.0 337.3,1005.8 338.4,1005.6 339.4,1005.4 340.5,1005.2 341.5,1005.0 342.5,1004.8 343.6,1004.6 344.6,1004.4 345.6,1004.2 346.6,1004.0 347.6,1003.8 348.7,1003.6 349.7,1003.5 350.7,1003.3 351.7,1003.1 352.7,1002.9 353.7,1002.7 354.7,1002.5 355.7,1002.3 356.7,1002.1 357.7,1001.9 358.7,1001.7 359.7,1001.5 360.7,1001.4 361.6,1001.2 362.6,1001.0 363.6,1000.8 364.6,1000.6 365.6,1000.4 366.5,1000.2 367.5,1000.0 368.5,999.8 369.4,999.6 370.4,999.4 371.4,999.3 372.3,999.1 373.3,998.9 374.2,998.7 375.2,998.5 376.2,998.3 377.1,998.1 378.1,997.9 379.0,997.7 379.9,997.5 380.9,997.4 381.8,997.2 382.8,997.0 383.7,996.8 384.6,996.6 385.6,996.4 386.5,996.2 387.4,996.0 388.4,995.8 389.3,995.7 390.2,995.5 391.1,995.3 392.1,995.1 393.0,994.9 393.9,994.7 394.8,994.5 395.7,994.3 396.6,994.2 397.6,994.0 398.5,993.8 399.4,993.6 400.3,993.4 401.2,993.2 402.1,993.0 403.0,992.8 403.9,992.7 404.8,992.5 405.7,992.3 406.6,992.1 407.5,991.9 408.3,991.7 409.2,991.5 410.1,991.3 411.0,991.2 411.9,991.0 412.8,990.8 413.7,990.6 414.5,990.4 415.4,990.2 416.3,990.0 417.2,989.8 418.0,989.7 418.9,989.5 419.8,989.3 420.6,989.1 421.5,988.9 422.4,988.7 423.2,988.5 424.1,988.4 425.0,988.2 425.8,988.0 426.7,987.8 427.5,987.6 428.4,987.4 429.2,987.2 430.1,987.1 430.9,986.9 431.8,986.7 431.8,986.7 445.4,983.7 458.7,980.7 471.7,977.7 484.3,974.8 496.7,971.9 508.7,968.9 520.6,966.1 532.1,963.2 543.5,960.3 554.6,957.5 565.5,954.7 576.2,951.8 586.6,949.1 596.9,946.3 607.0,943.5 617.0,940.8 626.7,938.1 636.3,935.4 645.8,932.7 655.0,930.0 664.2,927.3 673.1,924.7 682.0,922.1 690.7,919.5 699.2,916.9 707.6,914.3 715.9,911.7 724.1,909.2 732.2,906.6 740.1,904.1 747.9,901.6 755.6,899.1 763.2,896.6 770.7,894.1 778.1,891.7 785.4,889.3 792.6,886.8 799.7,884.4 806.7,882.0 813.6,879.6 820.4,877.3 827.1,874.9 833.7,872.6 840.3,870.2 846.7,867.9 853.1,865.6 859.4,863.3 865.6,861.0 871.8,858.8 877.8,856.5 883.8,854.3 889.7,852.0 895.6,849.8 901.3,847.6 907.0,845.4 912.7,843.2 918.2,841.1 923.7,838.9 929.1,836.7 934.5,834.6 939.8,832.5 945.1,830.4 950.2,828.3 955.4,826.2 960.4,824.1 965.4,822.0 970.4,820.0 975.3,817.9 980.1,815.9 984.9,813.8 989.6,811.8 994.3,809.8 998.9,807.8 1003.5,805.8 1008.0,803.8 1012.5,801.9 1016.9,799.9 1021.3,798.0 1025.7,796.0 1029.9,794.1 1034.2,792.2 1038.4,790.3 1042.5,788.4 1046.6,786.5 1050.7,784.6 1054.7,782.7 1058.7,780.9 1062.6,779.0 1066.5,777.2 1070.4,775.3 1074.2,773.5 1078.0,771.7 1081.7,769.9 1085.4,768.1 1089.1,766.3 1092.7,764.5 1096.3,762.8 1099.8,761.0 1103.3,759.2 1106.8,757.5 1110.3,755.7 1113.7,754.0 1117.1,752.3 1120.4,750.6 1123.7,748.9 1127.0,747.2 1130.2,745.5 1133.5,743.8 1136.6,742.1 1139.8,740.5 1142.9,738.8 1146.0,737.1 1149.1,735.5 1152.1,733.9 1155.1,732.2 1158.1,730.6 1161.0,729.0 1163.9,727.4 1166.8,725.8 1169.7,724.2 1172.5,722.6 1175.3,721.0 1178.1,719.5 1180.9,717.9 1183.6,716.4 1186.3,714.8 1189.0,713.3 1191.6,711.7 1194.3,710.2 1196.9,708.7 1199.5,707.2 1202.0,705.7 1204.5,704.2 1207.1,702.7 1209.5,701.2 1212.0,699.7 1214.5,698.2 1216.9,696.8 1219.3,695.3 1221.6,693.8 1224.0,692.4 1226.3,690.9 1228.6,689.5 1230.9,688.1 1233.2,686.7 1235.5,685.2 1237.7,683.8 1239.9,682.4 1242.1,681.0 1244.3,679.6 1246.4,678.2 1248.6,676.9 1250.7,675.5 1252.8,674.1 1254.8,672.7 1256.9,671.4 1258.9,670.0 1261.0,668.7 1263.0,667.3 1265.0,666.0 1266.9,664.7 1268.9,663.4 1270.8,662.0 1272.7,660.7 1274.6,659.4 1276.5,658.1 1278.4,656.8 1280.2,655.5 1282.1,654.2 1283.9,652.9 1285.7,651.7 1287.5,650.4 1289.3,649.1 1291.0,647.9 1292.8,646.6 1294.5,645.4 1296.2,644.1 1297.9,642.9 1299.6,641.6 1301.3,640.4 1302.9,639.2 1304.6,638.0 1306.2,636.8 1307.8,635.5 1309.4,634.3 1311.0,633.1 1312.6,631.9 1314.2,630.7 1315.7,629.6 1317.2,628.4 1318.8,627.2 1320.3,626.0 1321.8,624.9 1323.3,623.7 1324.7,622.5 1326.2,621.4 1327.7,620.2 1329.1,619.1 1330.5,617.9 1331.9,616.8 1333.3,615.7 1334.7,614.5 1336.1,613.4 1337.5,612.3 1338.8,611.2 1340.2,610.1 1341.5,609.0 1342.8,607.9 1344.1,606.8 1345.4,605.7 1346.7,604.6 1348.0,603.5 1349.3,602.4 1350.5,601.3 1351.8,600.2 1353.0,599.2 1354.2,598.1 1355.5,597.1 1356.7,596.0 1357.9,594.9 1359.1,593.9 1360.2,592.8 1361.4,591.8 1362.6,590.8 1363.7,589.7 1364.9,588.7 1366.0,587.7 1367.1,586.6 1368.2,585.6 1369.3,584.6 1370.4,583.6 1371.5,582.6 1372.6,581.6 1373.7,580.6 1374.7,579.6 1375.8,578.6 1376.8,577.6 1377.8,576.6 1378.9,575.6 1379.9,574.6 1380.9,573.7 1381.9,572.7 1382.9,571.7 1383.9,570.8 1384.9,569.8 1385.8,568.8 1386.8,567.9 1387.8,566.9 1388.7,566.0 1389.6,565.0 1390.6,564.1 1391.5,563.2 1392.4,562.2 1393.3,561.3 1394.2,560.4 1395.1,559.4 1396.0,558.5 1396.9,557.6 1397.8,556.7 1398.6,555.8 1399.5,554.9 1400.4,553.9 1401.2,553.0 1402.0,552.1 1402.9,551.2 1403.7,550.3 1404.5,549.5 1405.3,548.6 1406.1,547.7 1406.9,546.8 1407.7,545.9 1408.5,545.0 1409.3,544.2 1410.1,543.3 1410.9,542.4 1411.6,541.6 1412.4,540.7 1413.1,539.8 1413.9,539.0 1414.6,538.1 1415.3,537.3 1416.1,536.4 1416.8,535.6 1417.5,534.8 1418.2,533.9 1418.9,533.1 1419.6,532.2 1420.3,531.4 1421.0,530.6 1421.7,529.8 1422.4,528.9 1423.0,528.1 1423.7,527.3 1424.4,526.5 1425.0,525.7 1425.7,524.9 1426.3,524.1 1427.0,523.3 1427.6,522.5 1428.2,521.7 1428.8,520.9 1429.5,520.1 1430.1,519.3 1430.7,518.5 1431.3,517.7 1431.9,516.9 1432.5,516.1 1433.1,515.4 1433.7,514.6 1434.3,513.8 1434.8,513.0 1435.4,512.3 1436.0,511.5 1436.5,510.7 1437.1,510.0 1437.7,509.2 1438.2,508.5 1438.7,507.7 1439.3,507.0 1439.8,506.2 1440.4,505.5 1440.9,504.7 1441.4,504.0 1441.9,503.2 1442.4,502.5 1443.0,501.8 1443.5,501.0 1444.0,500.3 1444.5,499.6 1445.0,498.8 1445.4,498.1 1445.9,497.4 1446.4,496.7 1446.9,496.0 1447.4,495.2 1447.8,494.5 1448.3,493.8 1448.8,493.1 1449.2,492.4 1449.7,491.7 1450.1,491.0 1450.6,490.3 1451.0,489.6 1451.5,488.9 1451.9,488.2 1452.4,487.5 1452.8,486.8 1453.2,486.1 1453.6,485.5 1454.1,484.8 1454.5,484.1 1454.9,483.4 1455.3,482.7 1455.7,482.1 1456.1,481.4 1456.5,480.7 1456.9,480.0 1457.3,479.4 1457.7,478.7 1458.1,478.0 1458.5,477.4 1458.8,476.7 1459.2,476.1 1459.6,475.4 1460.0,474.8 1460.3,474.1 1460.7,473.5 1461.0,472.8 1461.4,472.2 1461.8,471.5 1462.1,470.9 1462.5,470.2 1462.8,469.6 1463.2,469.0 1463.5,468.3 1463.8,467.7 1464.2,467.1 1464.5,466.4 1464.8,465.8 1465.2,465.2 1465.5,464.5 1465.8,463.9 1466.1,463.3 1466.4,462.7 1466.7,462.1 1467.1,461.5 1467.4,460.8 1467.7,460.2 1468.0,459.6 1468.3,459.0 1468.6,458.4 1468.9,457.8 1469.2,457.2 1469.4,456.6 1469.7,456.0 1470.0,455.4 1470.3,454.8 1470.6,454.2 1470.8,453.6 1471.1,453.0 1471.4,452.4 1471.7,451.8 1471.9,451.3 1472.2,450.7 1472.5,450.1 1472.7,449.5 1473.0,448.9 1473.2,448.3 1473.5,447.8 1473.7,447.2 1474.0,446.6 1474.2,446.0 1474.5,445.5 1474.7,444.9 1474.9,444.3 1475.2,443.8 1475.4,443.2 1475.6,442.6 1475.9,442.1 1476.1,441.5 1476.3,441.0 1476.6,440.4 1476.8,439.9 1477.0,439.3 1477.2,438.7 1477.4,438.2 1477.6,437.6 1477.9,437.1 1478.1,436.6 1478.3,436.0 1478.5,435.5 1478.7,434.9 1478.9,434.4 1479.1,433.8 1479.3,433.3 1479.5,432.8 1479.7,432.2 1479.9,431.7 1480.1,431.2 1480.2,430.6 1480.4,430.1 1480.6,429.6 1480.8,429.1 1481.0,428.5 1481.2,428.0 1481.3,427.5 1481.5,427.0 1481.7,426.4 1481.9,425.9 1482.0,425.4 1482.2,424.9 1482.4,424.4 1482.5,423.9 1482.7,423.4 1482.8,422.8 1483.0,422.3 1483.2,421.8 1483.3,421.3 1483.5,420.8 1483.6,420.3 1483.8,419.8 1483.9,419.3 1484.1,418.8 1484.2,418.3 1484.4,417.8 1484.5,417.3 1484.7,416.8 1484.8,416.3 1484.9,415.8 1485.1,415.3 1485.2,414.9 1485.3,414.4 1485.5,413.9 1485.6,413.4 1485.7,412.9 1485.9,412.4 1486.0,411.9 1486.1,411.5 1486.2,411.0 1486.4,410.5 1486.5,410.0 1486.6,409.5 1486.7,409.1 1486.8,408.6 1486.9,408.1 1487.1,407.7 1487.2,407.2 1487.3,406.7 1487.4,406.2 1487.5,405.8 1487.6,405.3 1487.7,404.8 1487.8,404.4 1487.9,403.9 1488.0,403.5 1488.1,403.0 1488.2,402.5 1488.3,402.1 1488.4,401.6 1488.5,401.2 1488.6,400.7 1488.7,400.3 1488.8,399.8 1488.9,399.4 1489.0,398.9 1489.0,398.5 1489.1,398.0 1489.2,397.6 1489.3,397.1 1489.4,396.7 1489.5,396.2 1489.5,395.8 1489.6,395.3 1489.7,394.9 1489.8,394.5 1489.9,394.0 1489.9,393.6 1490.0,393.2 1490.1,392.7 1490.1,392.3 1490.2,391.9 1490.3,391.4 1490.3,391.0 1490.4,390.6 1490.5,390.1 1490.5,389.7 1490.6,389.3 1490.7,388.8 1490.7,388.4 1490.8,388.0 1490.9,387.6 1490.9,387.2 1491.0,386.7 1491.0,386.3 1491.1,385.9 1491.1,385.5 1491.2,385.1 1491.2,384.6 1491.3,384.2 1491.3,383.8 1491.4,383.4 1491.4,383.0 1491.5,382.6 1491.5,382.2 1491.6,381.8 1491.6,381.4 1491.7,380.9 1491.7,380.5 1491.7,380.1 1491.8,379.7 1491.8,379.3 1491.9,378.9 1491.9,378.5 1491.9,378.1 1492.0,377.7 1492.0,377.3 1492.0,376.9 1492.1,376.5 1492.1,376.1 1492.1,375.7 1492.2,375.3 1492.2,374.9 1492.2,374.5 1492.2,374.2 1492.3,373.8 1492.3,373.4 1492.3,373.0 1492.3,372.6 1492.4,372.2 1492.4,371.8 1492.4,371.4 1492.4,371.1 1492.5,370.7 1492.5,370.3 1492.5,369.9 1492.5,369.5 1492.5,369.1 1492.5,368.8 1492.6,368.4 1492.6,368.0 1492.6,367.6 1492.6,367.3 1492.6,366.9 1492.6,366.5 1492.6,366.1 1492.6,365.8 1492.6,365.4 1492.7,365.0 1492.7,364.6 1492.7,364.3 1492.7,363.9 1492.7,363.5 1492.7,363.2 1492.7,362.8 1492.7,362.4 1492.7,362.1 1492.7,361.7 1492.7,361.3 1492.7,361.0" fill="none" stroke="#111" stroke-width="5.1" stroke-linejoin="round"/>
<polyline points="1019.4,29.0 1027.9,30.0 1034.7,31.0 1040.8,32.0 1046.6,32.9 1052.1,33.9 1057.3,34.9 1062.3,35.9 1067.1,36.9 1071.8,37.9 1076.4,38.9 1080.8,39.8 1085.1,40.8 1089.3,41.8 1093.4,42.7 1097.4,43.7 1101.4,44.7 1105.2,45.7 1109.0,46.6 1112.7,47.6 1116.4,48.5 1120.0,49.5 1123.5,50.5 1126.9,51.4 1130.4,52.4 1133.7,53.3 1137.0,54.3 1140.3,55.2 1143.5,56.2 1146.7,57.1 1149.8,58.0 1152.9,59.0 1155.9,59.9 1158.9,60.9 1161.8,61.8 1164.8,62.7 1167.6,63.6 1170.5,64.6 1173.3,65.5 1176.1,66.4 1178.8,67.4 1181.5,68.3 1184.2,69.2 1186.9,70.1 1189.5,71.0 1192.1,71.9 1194.6,72.9 1197.2,73.8 1199.7,74.7 1202.2,75.6 1204.6,76.5 1207.0,77.4 1209.4,78.3 1211.8,79.2 1214.2,80.1 1216.5,81.0 1218.8,81.9 1221.1,82.8 1223.3,83.7 1225.6,84.6 1227.8,85.5 1230.0,86.3 1232.2,87.2 1234.3,88.1 1236.4,89.0 1238.6,89.9 1240.7,90.8 1242.7,91.6 1244.8,92.5 1246.8,93.4 1248.8,94.3 1250.8,95.1 1252.8,96.0 1254.8,96.9 1256.7,97.7 1258.6,98.6 1260.5,99.5 1262.4,100.3 1264.3,101.2 1266.2,102.0 1268.0,102.9 1269.8,103.7 1271.6,104.6 1273.4,105.4 1275.2,106.3 1277.0,107.1 1278.7,108.0 1280.5,108.8 1282.2,109.7 1283.9,110.5 1285.6,111.4 1287.3,112.2 1288.9,113.0 1290.6,113.9 1292.2,114.7 1293.8,115.5 1295.5,116.4 1297.1,117.2 1298.6,118.0 1300.2,118.9 1301.8,119.7 1303.3,120.5 1304.9,121.3 1306.4,122.1 1307.9,123.0 1309.4,123.8 1310.9,124.6 1312.3,125.4 1313.8,126.2 1315.3,127.0 1316.7,127.9 1318.1,128.7 1319.6,129.5 1321.0,130.3 1322.4,131.1 1323.7,131.9 1325.1,132.7 1326.5,133.5 1327.8,134.3 1329.2,135.1 1330.5,135.9 1331.8,136.7 1333.1,137.5 1334.4,138.3 1335.7,139.0 1337.0,139.8 1338.3,140.6 1339.6,141.4 1340.8,142.2 1342.1,143.0 1343.3,143.8 1344.5,144.5 1345.7,145.3 1347.0,146.1 1348.2,146.9 1349.3,147.6 1350.5,148.4 1351.7,149.2 1352.9,150.0 1354.0,150.7 1355.2,151.5 1356.3,152.3 1357.4,153.0 1358.6,153.8 1359.7,154.6 1360.8,155.3 1361.9,156.1 1363.0,156.8 1364.0,157.6 1365.1,158.4 1366.2,159.1 1367.2,159.9 1368.3,160.6 1369.3,161.4 1370.4,162.1 1371.4,162.9 1372.4,163.6 1373.4,164.4 1374.4,165.1 1375.4,165.8 1376.4,166.6 1377.4,167.3 1378.4,168.1 1379.4,168.8 1380.3,169.5 1381.3,170.3 1382.2,171.0 1383.2,171.7 1384.1,172.5 1385.0,173.2 1386.0,173.9 1386.9,174.7 1387.8,175.4 1388.7,176.1 1389.6,176.8 1390.5,177.6 1391.4,178.3 1392.2,179.0 1393.1,179.7 1394.0,180.4 1394.8,181.2 1395.7,181.9 1396.5,182.6 1397.4,183.3 1398.2,184.0 1399.0,184.7 1399.9,185.4 1400.7,186.1 1401.5,186.9 1402.3,187.6 1403.1,188.3 1403.9,189.0 1404.7,189.7 1405.5,190.4 1406.2,191.1 1407.0,191.8 1407.8,192.5 1408.5,193.2 1409.3,193.9 1410.0,194.6 1410.8,195.3 1411.5,195.9 1412.3,196.6 1413.0,197.3 1413.7,198.0 1414.4,198.7 1415.2,199.4 1415.9,200.1 1416.6,200.8 1417.3,201.4 1418.0,202.1 1418.6,202.8 1419.3,203.5 1420.0,204.2 1420.7,204.8 1421.3,205.5 1422.0,206.2 1422.7,206.9 1423.3,207.5 1424.0,208.2 1424.6,208.9 1425.3,209.5 1425.9,210.2 1426.5,210.9 1427.2,211.5 1427.8,212.2 1428.4,212.9 1429.0,213.5 1429.6,214.2 1430.2,214.9 1430.8,215.5 1431.4,216.2 1432.0,216.8 1432.6,217.5 1433.2,218.2 1433.8,218.8 1434.3,219.5 1434.9,220.1 1435.5,220.8 1436.0,221.4 1436.6,222.1 1437.2,222.7 1437.7,223.4 1438.2,224.0 1438.8,224.6 1439.3,225.3 1439.9,225.9 1440.4,226.6 1440.9,227.2 1441.4,227.9 1442.0,228.5 1442.5,229.1 1443.0,229.8 1443.5,230.4 1444.0,231.0 1444.5,231.7 1445.0,232.3 1445.5,232.9 1446.0,233.6 1446.5,234.2 1446.9,234.8 1447.4,235.5 1447.9,236.1 1448.4,236.7 1448.8,237.3 1449.3,238.0 1449.8,238.6 1450.2,239.2 1450.7,239.8 1451.1,240.4 1451.6,241.1 1452.0,241.7 1452.4,242.3 1452.9,242.9 1453.3,243.5 1453.7,244.1 1454.2,244.8 1454.6,245.4 1455.0,246.0 1455.4,246.6 1455.8,247.2 1456.3,247.8 1456.7,248.4 1457.1,249.0 1457.5,249.6 1457.9,250.2 1458.3,250.8 1458.7,251.4 1459.0,252.0 1459.4,252.6 1459.8,253.2 1460.2,253.8 1460.6,254.4 1460.9,255.0 1461.3,255.6 1461.7,256.2 1462.0,256.8 1462.4,257.4 1462.8,258.0 1463.1,258.6 1463.5,259.2 1463.8,259.8 1464.2,260.4 1464.5,260.9 1464.9,261.5 1465.2,262.1 1465.5,262.7 1465.9,263.3 1466.2,263.9 1466.5,264.5 1466.9,265.0 1467.2,265.6 1467.5,266.2 1467.8,266.8 1468.1,267.3 1468.4,267.9 1468.8,268.5 1469.1,269.1 1469.4,269.7 1469.7,270.2 1470.0,270.8 1470.3,271.4 1470.6,271.9 1470.8,272.5 1471.1,273.1 1471.4,273.6 1471.7,274.2 1472.0,274.8 1472.3,275.3 1472.5,275.9 1472.8,276.5 1473.1,277.0 1473.4,277.6 1473.6,278.2 1473.9,278.7 1474.2,279.3 1474.4,279.8 1474.7,280.4 1474.9,281.0 1475.2,281.5 1475.4,282.1 1475.7,282.6 1475.9,283.2 1476.2,283.7 1476.4,284.3 1476.7,284.8 1476.9,285.4 1477.1,285.9 1477.4,286.5 1477.6,287.0 1477.8,287.6 1478.0,288.1 1478.3,288.7 1478.5,289.2 1478.7,289.8 1478.9,290.3 1479.1,290.9 1479.4,291.4 1479.6,291.9 1479.8,292.5 1480.0,293.0 1480.2,293.6 1480.4,294.1 1480.6,294.6 1480.8,295.2 1481.0,295.7 1481.2,296.2 1481.4,296.8 1481.6,297.3 1481.8,297.8 1481.9,298.4 1482.1,298.9 1482.3,299.4 1482.5,300.0 1482.7,300.5 1482.9,301.0 1483.0,301.5 1483.2,302.1 1483.4,302.6 1483.5,303.1 1483.7,303.6 1483.9,304.2 1484.0,304.7 1484.2,305.2 1484.4,305.7 1484.5,306.2 1484.7,306.8 1484.8,307.3 1485.0,307.8 1485.1,308.3 1485.3,308.8 1485.4,309.3 1485.6,309.9 1485.7,310.4 1485.9,310.9 1486.0,311.4 1486.2,311.9 1486.3,312.4 1486.4,312.9 1486.6,313.4 1486.7,314.0 1486.8,314.5 1487.0,315.0 1487.1,315.5 1487.2,316.0 1487.3,316.5 1487.5,317.0 1487.6,317.5 1487.7,318.0 1487.8,318.5 1487.9,319.0 1488.0,319.5 1488.2,320.0 1488.3,320.5 1488.4,321.0 1488.5,321.5 1488.6,322.0 1488.7,322.5 1488.8,323.0 1488.9,323.5 1489.0,324.0 1489.1,324.5 1489.2,325.0 1489.3,325.5 1489.4,326.0 1489.5,326.4 1489.6,326.9 1489.7,327.4 1489.8,327.9 1489.8,328.4 1489.9,328.9 1490.0,329.4 1490.1,329.9 1490.2,330.4 1490.3,330.8 1490.3,331.3 1490.4,331.8 1490.5,332.3 1490.6,332.8 1490.6,333.3 1490.7,333.7 1490.8,334.2 1490.8,334.7 1490.9,335.2 1491.0,335.7 1491.0,336.1 1491.1,336.6 1491.2,337.1 1491.2,337.6 1491.3,338.0 1491.3,338.5 1491.4,339.0 1491.5,339.5 1491.5,339.9 1491.6,340.4 1491.6,340.9 1491.7,341.3 1491.7,341.8 1491.8,342.3 1491.8,342.8 1491.9,343.2 1491.9,343.7 1491.9,344.2 1492.0,344.6 1492.0,345.1 1492.1,345.5 1492.1,346.0 1492.1,346.5 1492.2,346.9 1492.2,347.4 1492.2,347.9 1492.3,348.3 1492.3,348.8 1492.3,349.2 1492.4,349.7 1492.4,350.2 1492.4,350.6 1492.4,351.1 1492.5,351.5 1492.5,352.0 1492.5,352.4 1492.5,352.9 1492.5,353.4 1492.6,353.8 1492.6,354.3 1492.6,354.7 1492.6,355.2 1492.6,355.6 1492.6,356.1 1492.6,356.5 1492.7,357.0 1492.7,357.4 1492.7,357.9 1492.7,358.3 1492.7,358.8 1492.7,359.2 1492.7,359.6 1492.7,360.1 1492.7,360.5 1492.7,361.0" fill="none" stroke="#111" stroke-width="5.1" stroke-linejoin="round"/>
<g stroke="#111" fill="none">
<line x1="208" y1="914.0" x2="222" y2="914.0" stroke-width="3.6"/>
<line x1="208" y1="803.0" x2="222" y2="803.0" stroke-width="3.6"/>
<line x1="208" y1="692.0" x2="222" y2="692.0" stroke-width="3.6"/>
<line x1="208" y1="581.0" x2="222" y2="581.0" stroke-width="3.6"/>
<line x1="208" y1="470.0" x2="222" y2="470.0" stroke-width="3.6"/>
<line x1="208" y1="359.0" x2="222" y2="359.0" stroke-width="3.6"/>
<line x1="208" y1="248.0" x2="222" y2="248.0" stroke-width="3.6"/>
<line x1="208" y1="137.0" x2="222" y2="137.0" stroke-width="3.6"/>
<line x1="206" y1="29.5" x2="216" y2="29.5" stroke-width="4.6"/>
</g>
<g font-family="'Liberation Serif', serif" font-size="57" fill="#111">
<text x="159.5" y="928.5" text-anchor="end">10</text>
<text x="159.5" y="819.7" text-anchor="end">20</text>
<text x="159.5" y="706.6" text-anchor="end">30</text>
<text x="159.5" y="596.5" text-anchor="end">40</text>
<text x="159.5" y="484.6" text-anchor="end">50</text>
<text x="159.5" y="376.0" text-anchor="end">60</text>
<text x="159.5" y="262.8" text-anchor="end">70</text>
<text x="159.5" y="153.8" text-anchor="end">80</text>
<text x="159.5" y="43.5" text-anchor="end">90</text>
<text x="159" y="1113.8" text-anchor="end">0</text>
<text x="332.5" y="1113.8" text-anchor="middle" letter-spacing="1.6">0.1</text>
<text x="461.1" y="1113.8" text-anchor="middle" letter-spacing="1.6">0.2</text>
<text x="589.6999999999999" y="1113.8" text-anchor="middle" letter-spacing="1.6">0.3</text>
<text x="718.4" y="1113.8" text-anchor="middle" letter-spacing="1.6">0.4</text>
<text x="846.8" y="1113.8" text-anchor="middle" letter-spacing="1.6">0.5</text>
<text x="975.8" y="1113.8" text-anchor="middle" letter-spacing="1.6">0.6</text>
<text x="1104.8" y="1113.8" text-anchor="middle" letter-spacing="1.6">0.7</text>
<text x="1233.2" y="1113.8" text-anchor="middle" letter-spacing="1.6">0.8</text>
<text x="1361.1" y="1113.8" text-anchor="middle" letter-spacing="1.6">0.9</text>
<text x="1490.8" y="1113.8" text-anchor="middle" letter-spacing="1.6">1.0</text>
<text x="543.5" y="321" text-anchor="middle">6</text>
<text x="1121.2" y="321" text-anchor="middle">3</text>
<text x="1413.7" y="321" text-anchor="middle">1</text>
<text x="544.7" y="545.6" text-anchor="middle">7</text>
<text x="1121.2" y="544.6" text-anchor="middle">4</text>
<text x="1414.2" y="521" text-anchor="middle">2</text>
<text x="543.3" y="705" text-anchor="middle">8</text>
<text x="1121.2" y="705" text-anchor="middle">5</text>
</g>
<text x="734" y="1210" font-family="'Liberation Serif', 'Noto Serif CJK SC', serif" font-weight="300" font-size="57" fill="#111">极化熵</text>
<text x="929" y="1208.5" font-family="'Liberation Serif', serif" font-style="italic" font-size="60" fill="#111">H</text>
<g font-family="'Liberation Serif', serif" fill="#111">
<text transform="translate(55,589) rotate(-90) scale(1.14,1)" font-style="italic" font-size="58">α</text>
<text transform="translate(56,530.5) rotate(-90)" font-size="68">(</text>
<text transform="translate(56,488.5) rotate(-90)" font-size="68">)</text>
<text transform="translate(50,509.5) rotate(-90)" font-size="58">°</text>
</g>
</svg></body></html>
